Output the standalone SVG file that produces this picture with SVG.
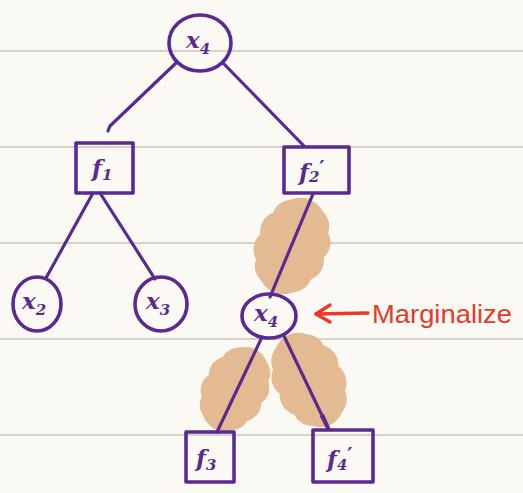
<svg xmlns="http://www.w3.org/2000/svg" width="523" height="493" viewBox="0 0 523 493">
<defs>
<style>
.node{fill:none;stroke:#5b2a91;stroke-width:3.6;stroke-linecap:round;stroke-linejoin:round}
.edge{fill:none;stroke:#5b2a91;stroke-width:3.2;stroke-linecap:round}
.lbl{font-family:"DejaVu Serif","Liberation Serif",serif;font-style:italic;font-weight:bold;fill:#5b2a91;font-size:23px}
.sub{font-size:15px}
.prime{font-family:"DejaVu Sans",sans-serif;font-style:normal;font-size:20px}
.rule{stroke:#d6d1c9;stroke-width:2}
.blob{fill:#e2b489;opacity:0.92}
</style>
<path id="blobshape" d="M0,-50 a22,22 0 0 1 13.5,6.7 a22,22 0 0 1 9.9,18.3 a24,24 0 0 1 3.6,25 a24,24 0 0 1 -3.6,25 a22,22 0 0 1 -9.9,18.3 a22,22 0 0 1 -13.5,6.7 a22,22 0 0 1 -13.5,-6.7 a22,22 0 0 1 -9.9,-18.3 a24,24 0 0 1 -3.6,-25 a24,24 0 0 1 3.6,-25 a22,22 0 0 1 9.9,-18.3 a22,22 0 0 1 13.5,-6.7 z"/>
<marker id="thick" viewBox="0 0 10 10" refX="9" refY="5" markerWidth="5" markerHeight="5" orient="auto" markerUnits="strokeWidth">
<path d="M0,3.5 L10,3.8 L10,6.2 L0,6.5 z" fill="#5b2a91"/>
</marker>
</defs>
<rect width="523" height="493" fill="#fbf9f4"/>
<g id="paper-lines">
<line class="rule" x1="0" y1="51" x2="523" y2="51"/>
<line class="rule" x1="0" y1="147" x2="523" y2="147"/>
<line class="rule" x1="0" y1="243" x2="523" y2="243"/>
<line class="rule" x1="0" y1="339" x2="523" y2="339"/>
<line class="rule" x1="0" y1="435" x2="523" y2="435"/>
</g>
<g id="highlights">
<use href="#blobshape" class="blob" transform="translate(292,246) rotate(20) scale(1.25,1.0)"/>
<use href="#blobshape" class="blob" transform="translate(235,389) rotate(28) scale(1.1,0.9)"/>
<use href="#blobshape" class="blob" transform="translate(309,380) rotate(-25) scale(1.2,1.0)"/>
</g>
<g id="connectors">
<path class="edge" d="M176,63 L110,126 L108,131"/>
<path class="edge" d="M224,64 L304,146"/>
<path class="edge" d="M93,193 L46,278"/>
<path class="edge" d="M100,193 L155,279"/>
<path class="edge" d="M313,194 L270,297"/>
<path class="edge" d="M262,337 L217,432"/>
<path class="edge" d="M284,336 L328,428" marker-end="url(#thick)"/>
<g id="marginalize-arrow" fill="none" stroke="#e8392a" stroke-width="3.4" stroke-linecap="round" stroke-linejoin="round">
<path d="M368,313 L316,314"/>
<path d="M330,305 L316,314 L330,322"/>
</g>
</g>
<g id="n-x4">
<ellipse class="node" cx="200" cy="43" rx="31" ry="28"/>
<text class="lbl" x="186" y="48">x<tspan class="sub" dy="6">4</tspan></text>
</g>
<g id="n-f1">
<rect class="node" x="76" y="143" width="57" height="50"/>
<text class="lbl" x="92" y="176">f<tspan class="sub" dy="4">1</tspan></text>
</g>
<g id="n-f2p">
<rect class="node" x="284" y="147" width="65" height="46"/>
<text class="lbl" x="299" y="180">f<tspan class="sub" dy="2">2</tspan><tspan class="prime" dy="-8">′</tspan></text>
</g>
<g id="n-x2">
<ellipse class="node" cx="37" cy="304" rx="24" ry="27"/>
<text class="lbl" x="22" y="309">x<tspan class="sub" dy="6">2</tspan></text>
</g>
<g id="n-x3">
<ellipse class="node" cx="161" cy="304" rx="26" ry="27"/>
<text class="lbl" x="146" y="309">x<tspan class="sub" dy="6">3</tspan></text>
</g>
<g id="n-x4b">
<ellipse class="node" cx="269" cy="316" rx="27" ry="22"/>
<text class="lbl" x="254" y="321">x<tspan class="sub" dy="6">4</tspan></text>
</g>
<g id="n-f3">
<rect class="node" x="186" y="432" width="48" height="50"/>
<text class="lbl" x="196" y="466">f<tspan class="sub" dy="4">3</tspan></text>
</g>
<g id="n-f4p">
<rect class="node" x="313" y="430" width="60" height="52"/>
<text class="lbl" x="327" y="467">f<tspan class="sub" dy="3">4</tspan><tspan class="prime" dy="-9">′</tspan></text>
</g>
<g id="label-marginalize">
<text x="372" y="323" font-family="Liberation Sans, sans-serif" font-size="25" fill="#e8392a" textLength="140" lengthAdjust="spacingAndGlyphs">Marginalize</text>
</g>
</svg>
